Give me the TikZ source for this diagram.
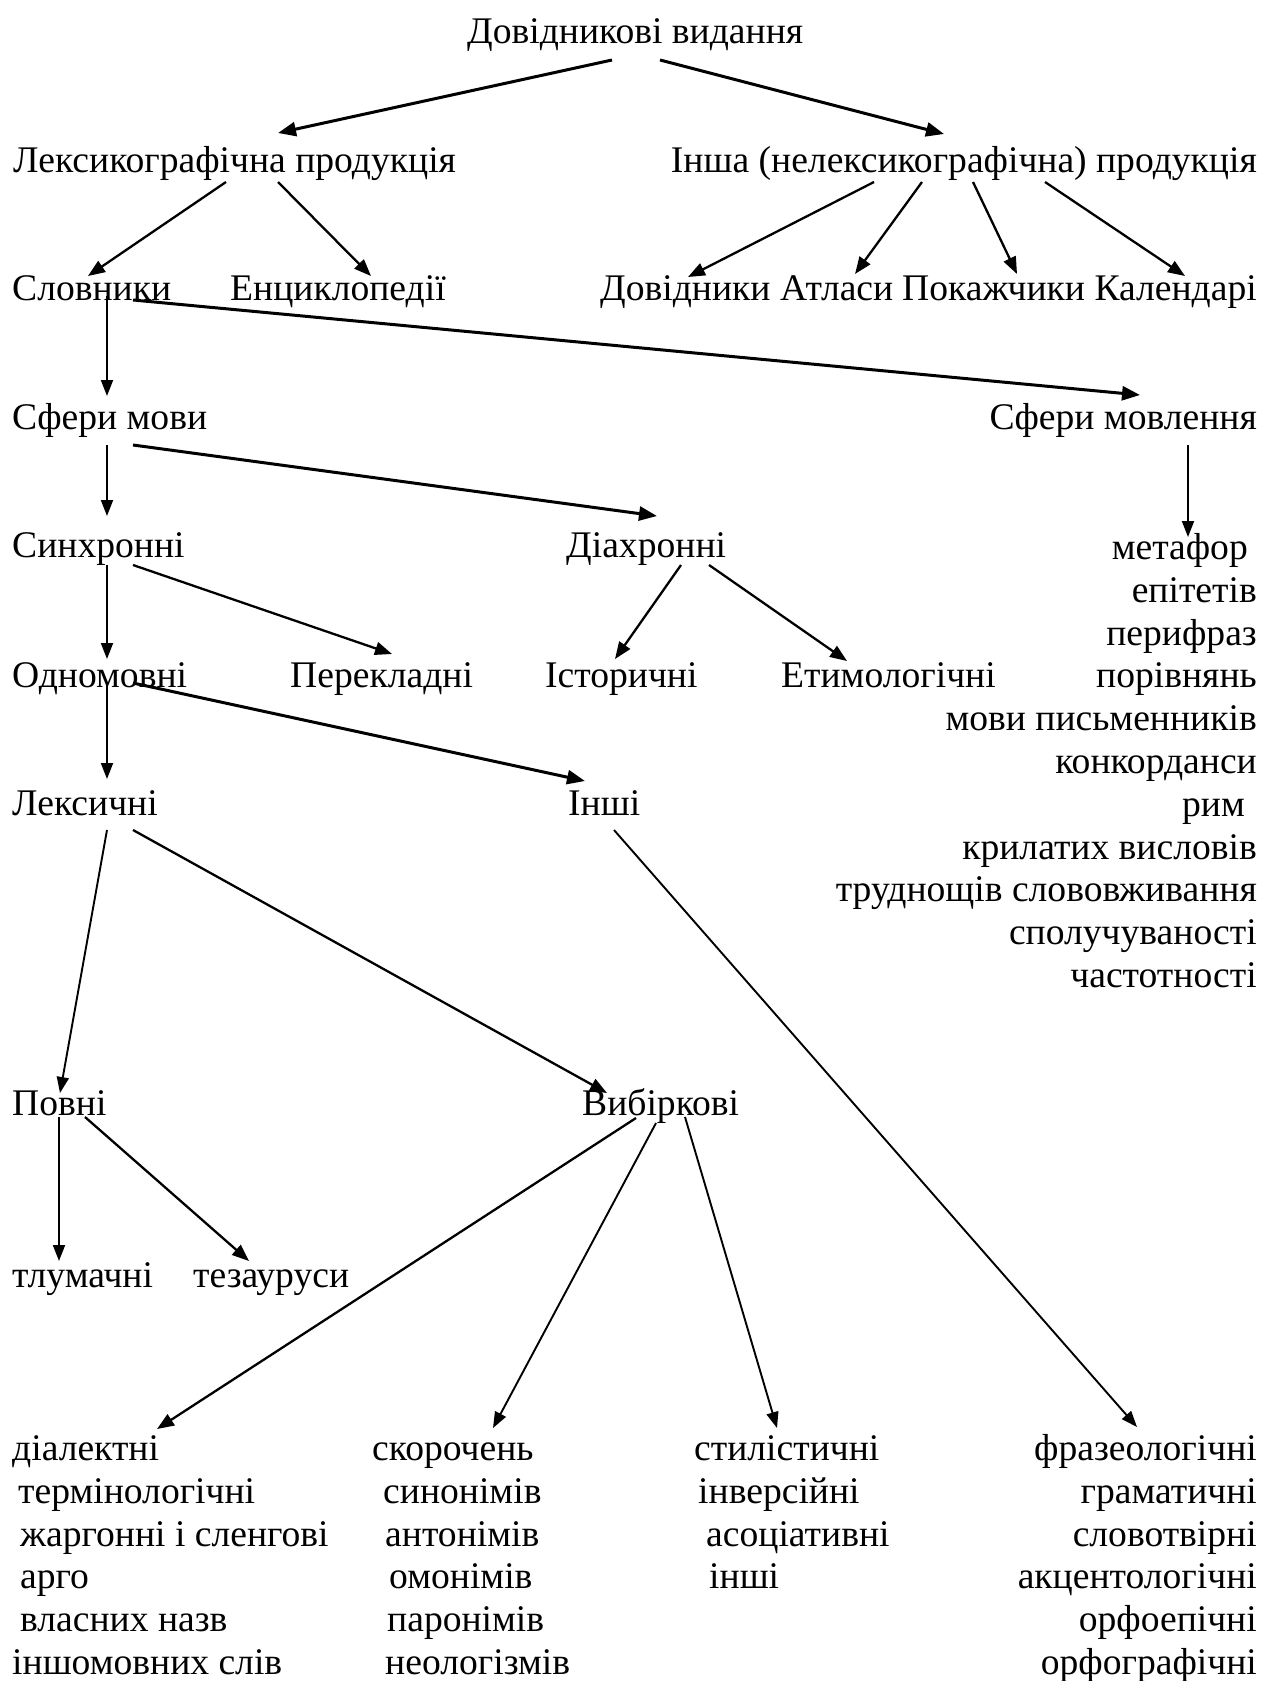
\documentclass[tikz,border=0pt]{standalone}
\usepackage{fontspec}
\setmainfont{Liberation Serif}
\usetikzlibrary{arrows.meta}
\begin{document}
\begin{tikzpicture}[x=1pt,y=-1pt,
  lbl/.style={inner sep=0pt,anchor=base west,font=\fontsize{37.6}{43}\selectfont},
  rlbl/.style={inner sep=0pt,anchor=base east,font=\fontsize{37.6}{43}\selectfont},
  arr/.style={line width=2.3pt,-{Triangle[length=17pt,width=13pt]}},
  arrk/.style={line width=3pt,-{Triangle[length=18pt,width=14pt]}},
  arrt/.style={line width=1.9pt,-{Triangle[length=16pt,width=12pt]}}]
\useasboundingbox (0,0) rectangle (1263,1681);
\fill[white] (0,0) rectangle (1263,1681);
% nodes
\node[lbl] (root) at (467,43) {Довідникові видання};
\node[lbl] (lex) at (13,172) {Лексикографічна продукція};
\node[rlbl] (insha) at (1257,172) {Інша (нелексикографічна) продукція};
\node[lbl] (slov) at (12,300) {Словники};
\node[lbl] (enc) at (230,300) {Енциклопедії};
\node[lbl] (dov) at (600,300) {Довідники};
\node[lbl] (atl) at (780,300) {Атласи};
\node[lbl] (pok) at (902,300) {Покажчики};
\node[rlbl] (kal) at (1257,300) {Календарі};
\node[lbl] (sfm) at (12,429) {Сфери мови};
\node[rlbl] (sfml) at (1257,429) {Сфери мовлення};
\node[lbl] (syn) at (12,557) {Синхронні};
\node[lbl] (dia) at (566,557) {Діахронні};
\node[lbl] (odn) at (12,687) {Одномовні};
\node[lbl] (per) at (290,687) {Перекладні};
\node[lbl] (ist) at (545,687) {Історичні};
\node[lbl] (etym) at (781,687) {Етимологічні};
\node[lbl] (lek) at (12,815) {Лексичні};
\node[lbl] (inshi) at (568,815) {Інші};
% right list
\node[rlbl] (m1) at (1248,559) {метафор};
\node[rlbl] (m2) at (1257,602) {епітетів};
\node[rlbl] (m3) at (1257,645) {перифраз};
\node[rlbl] (m4) at (1257,687) {порівнянь};
\node[rlbl] (m5) at (1257,730) {мови письменників};
\node[rlbl] (m6) at (1257,773) {конкорданси};
\node[rlbl] (m7) at (1245,816) {рим};
\node[rlbl] (m8) at (1257,859) {крилатих висловів};
\node[rlbl] (m9) at (1257,901) {труднощів слововживання};
\node[rlbl] (m10) at (1257,944) {сполучуваності};
\node[rlbl] (m11) at (1257,987) {частотності};
\node[lbl] (povni) at (12,1115) {Повні};
\node[lbl] (vyb) at (582,1115) {Вибіркові};
\node[lbl] (tlum) at (12,1287) {тлумачні};
\node[lbl] (tez) at (193,1287) {тезауруси};
% bottom col 1
\node[lbl] (c1a) at (12,1460) {діалектні};
\node[lbl] (c1b) at (18,1503) {термінологічні};
\node[lbl] (c1c) at (20,1546) {жаргонні і сленгові};
\node[lbl] (c1d) at (20,1588) {арго};
\node[lbl] (c1e) at (20,1631) {власних назв};
\node[lbl] (c1f) at (12,1674) {іншомовних слів};
% col 2
\node[lbl] (c2a) at (372,1460) {скорочень};
\node[lbl] (c2b) at (383,1503) {синонімів};
\node[lbl] (c2c) at (385,1546) {антонімів};
\node[lbl] (c2d) at (389,1588) {омонімів};
\node[lbl] (c2e) at (387,1631) {паронімів};
\node[lbl] (c2f) at (385,1674) {неологізмів};
% col 3
\node[lbl] (c3a) at (694,1460) {стилістичні};
\node[lbl] (c3b) at (698,1503) {інверсійні};
\node[lbl] (c3c) at (706,1546) {асоціативні};
\node[lbl] (c3d) at (709,1588) {інші};
% col 4
\node[rlbl] (c4a) at (1257,1460) {фразеологічні};
\node[rlbl] (c4b) at (1257,1503) {граматичні};
\node[rlbl] (c4c) at (1257,1546) {словотвірні};
\node[rlbl] (c4d) at (1257,1588) {акцентологічні};
\node[rlbl] (c4e) at (1257,1631) {орфоепічні};
\node[rlbl] (c4f) at (1257,1674) {орфографічні};
% connector end points
\coordinate (rootL) at (612,60);  \coordinate (lexT) at (278,133);
\coordinate (rootR) at (660,60);  \coordinate (inshaT) at (944,134);
\coordinate (lexA) at (226,182);  \coordinate (slovT) at (88,276);
\coordinate (lexB) at (278,182);  \coordinate (encT) at (371,276);
\coordinate (inshaA) at (874,182); \coordinate (dovT) at (688,277);
\coordinate (inshaB) at (922,182); \coordinate (atlT) at (855,274);
\coordinate (inshaC) at (973,182); \coordinate (pokT) at (1017,274);
\coordinate (inshaD) at (1045,182); \coordinate (kalT) at (1185,276);
\coordinate (slovA) at (107,296); \coordinate (sfmT) at (107,396);
\coordinate (slovB) at (133,300); \coordinate (sfmlT) at (1140,395);
\coordinate (sfmA) at (107,445); \coordinate (synT) at (107,516);
\coordinate (sfmB) at (133,445); \coordinate (diaT) at (657,516);
\coordinate (sfmlA) at (1188,445); \coordinate (m1T) at (1188,537);
\coordinate (synA) at (107,565); \coordinate (odnT) at (107,659);
\coordinate (synB) at (133,565); \coordinate (perT) at (392,654);
\coordinate (diaA) at (681,565); \coordinate (istT) at (615,659);
\coordinate (diaB) at (709,565); \coordinate (etymT) at (847,661);
\coordinate (odnA) at (107,684); \coordinate (lekT) at (107,779);
\coordinate (odnB) at (133,683); \coordinate (inshiT) at (585,781);
\coordinate (lekA) at (107,830); \coordinate (povniT) at (60,1093);
\coordinate (lekB) at (133,830); \coordinate (vybT) at (607,1093);
\coordinate (inshiA) at (614,830); \coordinate (c4T) at (1137,1427);
\coordinate (povniA) at (59,1117); \coordinate (tlumT) at (59,1261);
\coordinate (povniB) at (85,1117); \coordinate (tezT) at (249,1261);
\coordinate (vybA) at (636,1118); \coordinate (c1T) at (157,1429);
\coordinate (vybB) at (656,1123); \coordinate (c2T) at (493,1428);
\coordinate (vybC) at (685,1117); \coordinate (c3T) at (777,1428);
% connectors
\draw[arrk] (rootL) -- (lexT);
\draw[arrk] (rootR) -- (inshaT);
\draw[arr] (lexA) -- (slovT);
\draw[arr] (lexB) -- (encT);
\draw[arr] (inshaA) -- (dovT);
\draw[arr] (inshaB) -- (atlT);
\draw[arr] (inshaC) -- (pokT);
\draw[arr] (inshaD) -- (kalT);
\draw[arrt] (slovA) -- (sfmT);
\draw[arrk] (slovB) -- (sfmlT);
\draw[arrt] (sfmA) -- (synT);
\draw[arrk] (sfmB) -- (diaT);
\draw[arrt] (sfmlA) -- (m1T);
\draw[arrt] (synA) -- (odnT);
\draw[arr] (synB) -- (perT);
\draw[arr] (diaA) -- (istT);
\draw[arr] (diaB) -- (etymT);
\draw[arrt] (odnA) -- (lekT);
\draw[arrk] (odnB) -- (inshiT);
\draw[arrt] (lekA) -- (povniT);
\draw[arr] (lekB) -- (vybT);
\draw[arrt] (inshiA) -- (c4T);
\draw[arrt] (povniA) -- (tlumT);
\draw[arr] (povniB) -- (tezT);
\draw[arr] (vybA) -- (c1T);
\draw[arrt] (vybB) -- (c2T);
\draw[arrt] (vybC) -- (c3T);
\end{tikzpicture}
\end{document}
